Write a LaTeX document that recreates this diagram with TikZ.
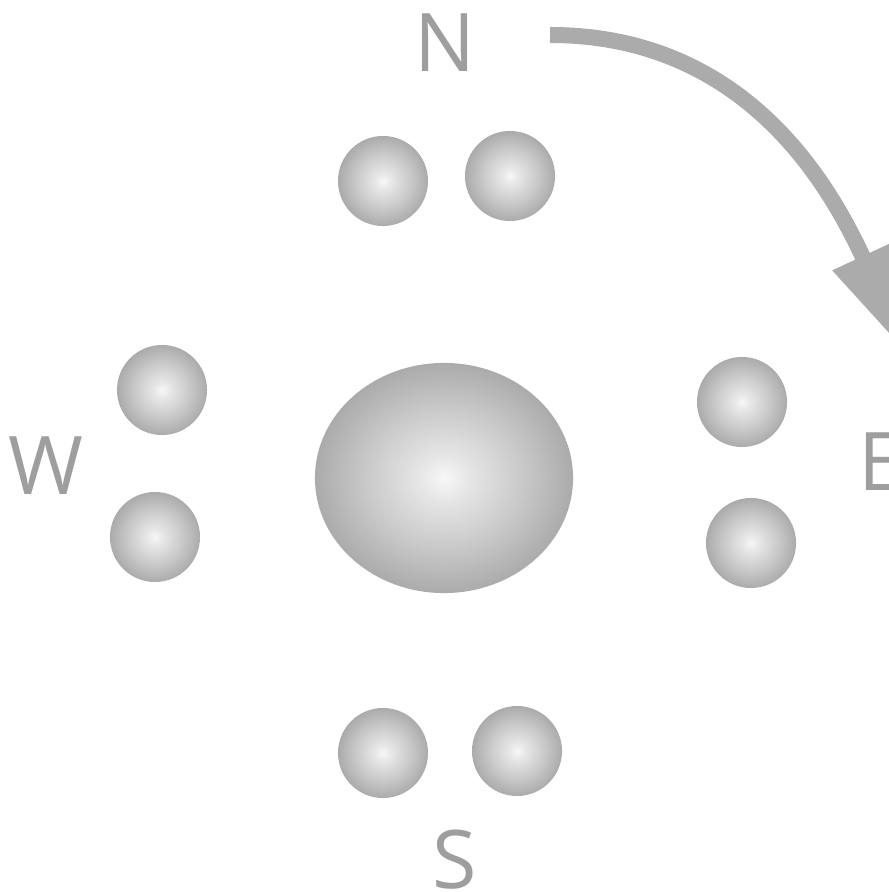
\documentclass[tikz,border=0pt]{standalone}
\usepackage{fontspec}
\setmainfont{Open Sans}
\usetikzlibrary{arrows.meta,shapes.geometric}
\definecolor{compassgray}{HTML}{9E9E9E}
\definecolor{arrowgray}{HTML}{ABABAB}
\pgfdeclareradialshading{ballshade}{\pgfpoint{0bp}{0bp}}{%
  color(0bp)=(white!97!black); color(5bp)=(white!90!black);
  color(15bp)=(white!79!black); color(25bp)=(white!67!black);
  color(50bp)=(white!67!black)}

\begin{document}
\begin{tikzpicture}[
      x=0.01cm, y=-0.01cm,
      ball/.style={circle, minimum size=0.9cm, inner sep=0pt, shading=ballshade},
      core/.style={ellipse, minimum width=2.58cm, minimum height=2.3cm,
                   inner sep=0pt, shading=ballshade},
      compass/.style={font=\fontsize{23}{23}\selectfont, text=compassgray,
                      inner sep=0pt},
      turn/.style={line width=0.16cm, draw=arrowgray,
                   -{Triangle[length=1.1cm, width=0.62cm]}},
    ]
    \useasboundingbox (0,0) rectangle (889,892);
    \clip (0,0) rectangle (889,892);

    % Compass letters
    \node[compass] (north) at (445,43) {N};
    \node[compass] (west) at (46,466) {W};
    \node[compass, anchor=west] (east) at (858,462) {E};
    \node[compass] (south) at (455,860) {S};

    % Small balls, two per side
    \foreach \name/\x/\y in {n1/383/181, n2/510/176, w1/162/390, w2/155/537,
                             e1/742/402, e2/751/543, s1/383/753, s2/517/751}
      \node[ball] (\name) at (\x,\y) {};

    % Centre
    \node[core] (nucleus) at (444,478) {};

    % Turning arrow
    \coordinate (turnstart) at (550,35);
    \coordinate (turntip) at (909,356);
    \draw[turn] (turnstart) .. controls (750,35) and (833,193) .. (turntip);
  \end{tikzpicture}
\end{document}
